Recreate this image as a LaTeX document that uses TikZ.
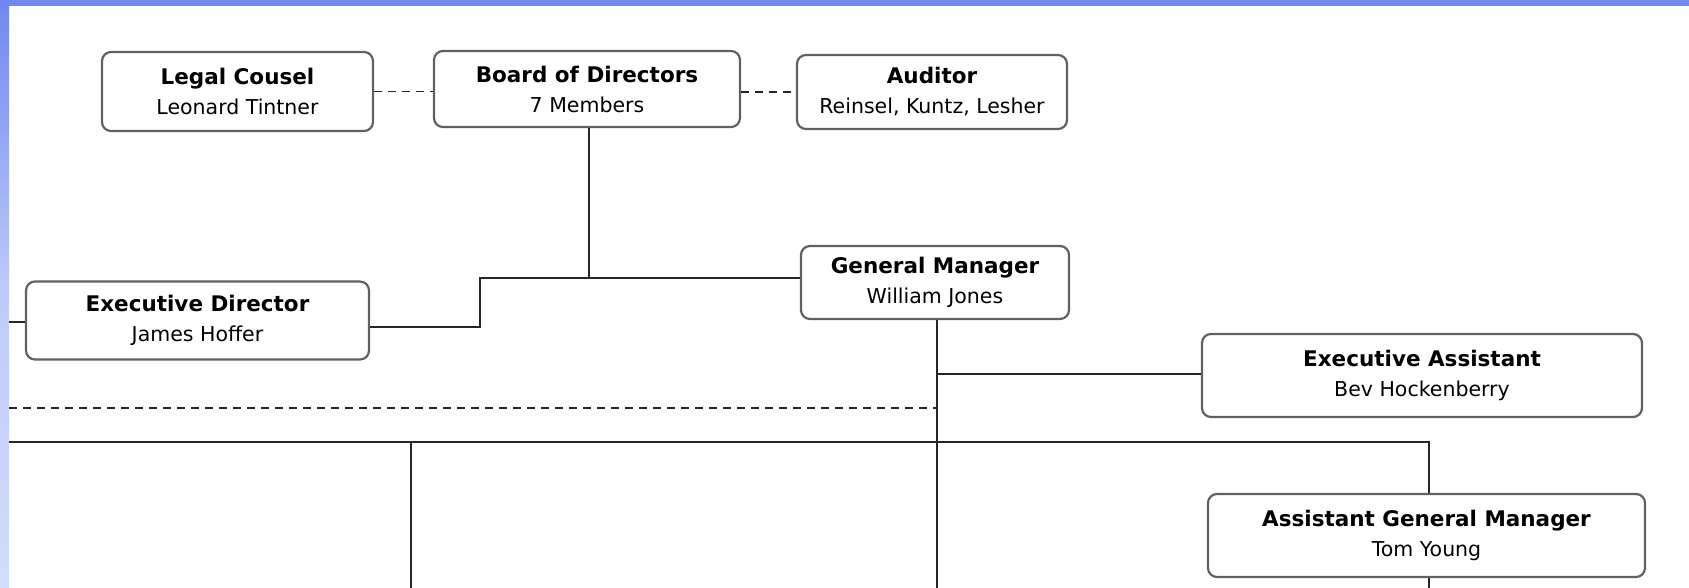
\documentclass[tikz,border=0pt]{standalone}
\usepackage{fontspec}
\setmainfont{DejaVu Sans}
\definecolor{slideblue}{HTML}{7088F0}
\definecolor{slidepale}{HTML}{D2DCFC}
\newcommand{\hd}[1]{{\fontsize{21.5}{30}\selectfont\bfseries #1}}

\begin{document}
\begin{tikzpicture}[x=1pt,y=-1pt,line join=miter,
  post/.style={draw=black!62,line width=2.2pt,rounded corners=9pt,fill=white,
    align=center,inner sep=0pt,font=\fontsize{20.5}{30}\selectfont},
  link/.style={line width=1.6pt,draw=black!85},
  advice/.style={link,dash pattern=on 8pt off 6pt}]
	\useasboundingbox (0,0) rectangle (1689,588);
	% slide frame
	\shade[top color=slideblue,bottom color=slidepale,middle color=slidepale!80!slideblue] (0,0) rectangle (9,588);
	\fill[slideblue] (0,0) rectangle (1689,6);
	% boxes
	\node[post,minimum width=271pt,minimum height=79pt] (legal) at (237.5,91.5) {\hd{Legal Cousel}\\Leonard Tintner};
	\node[post,minimum width=306pt,minimum height=76pt] (board) at (587,89) {\hd{Board of Directors}\\7 Members};
	\node[post,minimum width=270pt,minimum height=74pt] (auditor) at (932,92) {\hd{Auditor}\\Reinsel, Kuntz, Lesher};
	\node[post,minimum width=268pt,minimum height=73pt] (gm) at (935,282.5) {\hd{General Manager}\\William Jones};
	\node[post,minimum width=343pt,minimum height=78pt] (exec) at (197.5,320.5) {\hd{Executive Director}\\James Hoffer};
	\node[post,minimum width=440pt,minimum height=83pt] (ea) at (1422,375.5) {\hd{Executive Assistant}\\Bev Hockenberry};
	\node[post,minimum width=437pt,minimum height=83pt] (agm) at (1426.5,535.5) {\hd{Assistant General Manager}\\Tom Young};
	% joints and free ends
	\coordinate (bj) at (589,278);
	\coordinate (st) at (480,278);
	\coordinate (sb) at (480,327);
	\coordinate (edge1) at (9,322);
	\coordinate (gmj) at (937,374);
	\coordinate (gmb) at (937,588);
	\coordinate (dl) at (9,408);
	\coordinate (dr) at (937,408);
	\coordinate (sl) at (9,442);
	\coordinate (sr) at (1429,442);
	\coordinate (sm) at (411,442);
	\coordinate (smb) at (411,588);
	\coordinate (agmb) at (1429,588);
	% connectors
	\draw[advice] (legal.east) -- (legal.east -| board.west);
	\draw[advice] (board.east |- auditor.west) -- (auditor.west);
	\draw[link] (board.south -| bj) -- (bj) -- (bj -| gm.west);
	\draw[link] (bj) -- (st) -- (sb) -- (sb -| exec.east);
	\draw[link] (edge1) -- (edge1 -| exec.west);
	\draw[link] (gm.south -| gmj) -- (gmb);
	\draw[link] (gmj) -- (gmj -| ea.west);
	\draw[advice] (dl) -- (dr);
	\draw[link] (sl) -- (sr) -- (sr |- agm.north);
	\draw[link] (sm) -- (smb);
	\draw[link] (agm.south -| sr) -- (agmb);
\end{tikzpicture}
\end{document}
